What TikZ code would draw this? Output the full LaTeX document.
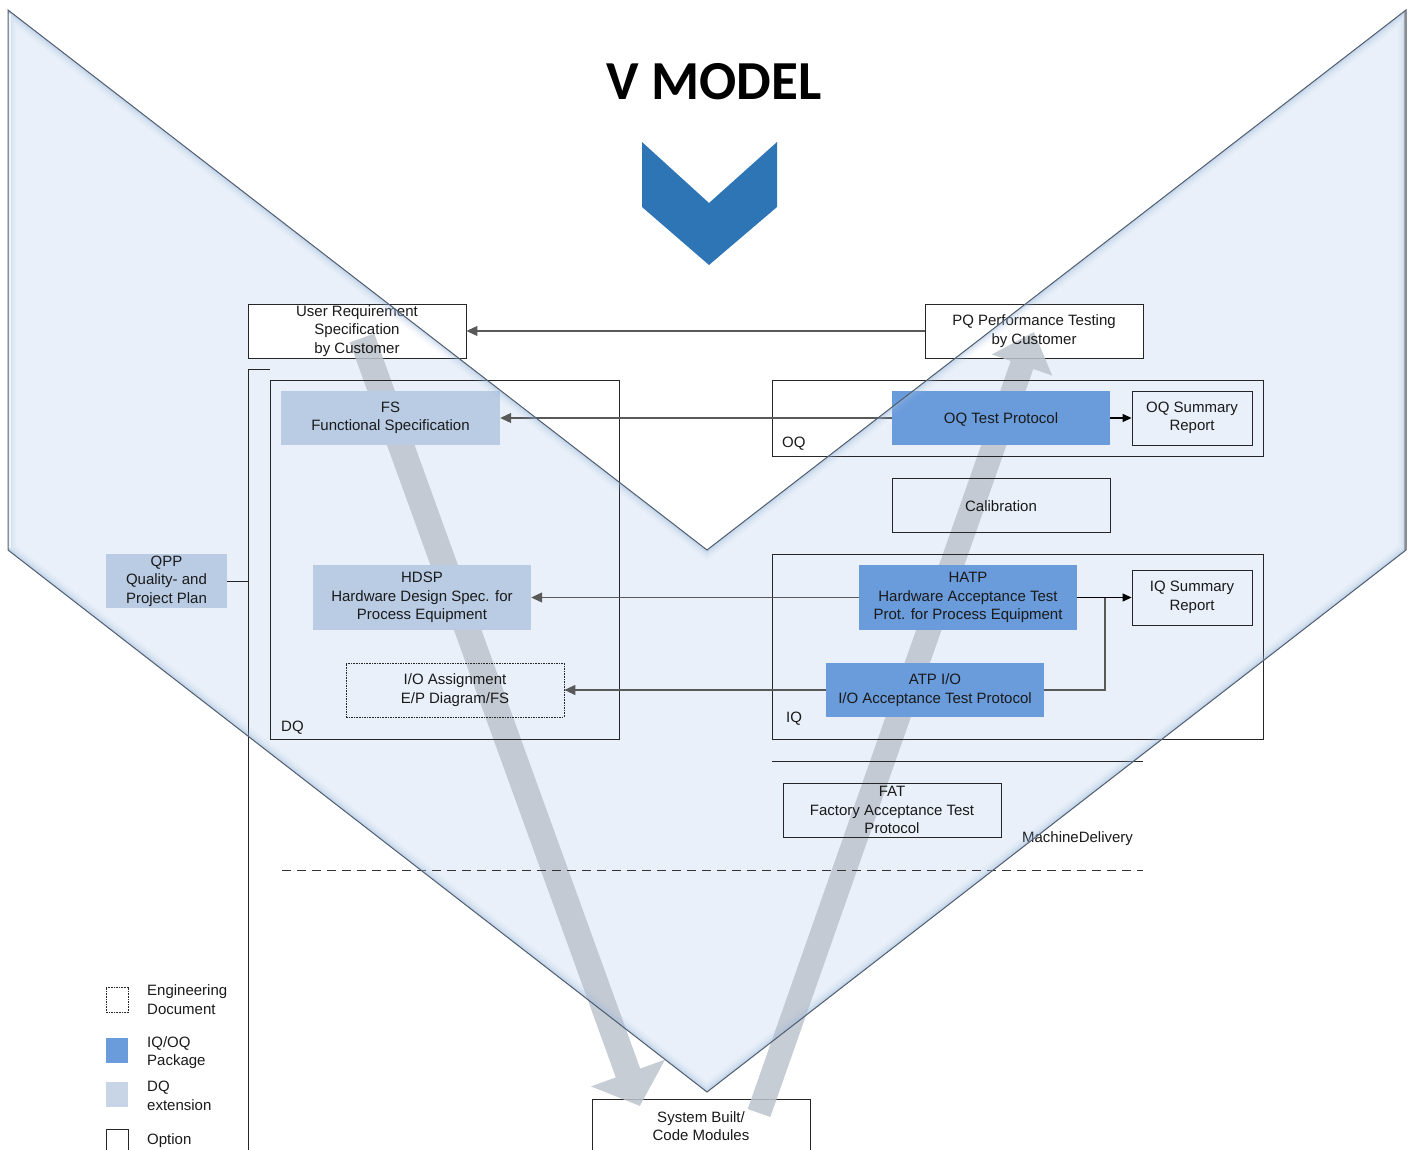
\documentclass[tikz,border=0pt]{standalone}
\usepackage{fontspec}
\setmainfont{Liberation Sans}
\newfontfamily\titlefont{Carlito}
\usetikzlibrary{arrows.meta}
\definecolor{vfill}{HTML}{E9F0F9}
\definecolor{vedge}{HTML}{4F5D6C}
\definecolor{vglow}{HTML}{9EBBDF}
\definecolor{dqc}{HTML}{B9CCE4}
\definecolor{dqleg}{HTML}{C8D5E6}
\definecolor{iqc}{HTML}{6A9BDB}
\definecolor{chev}{HTML}{2E75B6}
\definecolor{band}{HTML}{BDC4CD}
\definecolor{conn}{HTML}{595959}
\definecolor{txt}{HTML}{1A1A1A}
\begin{document}
\begin{tikzpicture}[x=1pt,y=-1pt,
  font=\fontsize{15}{18.5}\selectfont, text=txt,
  lowered/.style={execute at begin node={\rule{0pt}{14pt}}},
  doc/.style={draw=black!85, line width=0.9pt, align=center, inner sep=0pt, minimum width=218pt, minimum height=54pt, lowered},
  whitebg/.style={draw=black!85, line width=0.9pt, fill=white, inner sep=0pt, minimum width=218pt, minimum height=54pt},
  overtext/.style={align=center, inner sep=0pt, lowered},
  dqdoc/.style={align=center, inner sep=0pt, fill=dqc, minimum width=218pt, minimum height=54pt, lowered},
  iqdoc/.style={align=center, inner sep=0pt, fill=iqc, minimum width=218pt, minimum height=54pt, lowered},
  engdoc/.style={doc, dash pattern=on 1.6pt off 1pt, line width=0.7pt},
  frame/.style={draw=black!85, line width=0.9pt, inner sep=0pt},
  garrow/.style={draw=conn, line width=1.1pt, -{Triangle[length=11pt,width=10pt]}},
  barrow/.style={draw=black, line width=1.1pt, -{Triangle[length=9pt,width=8pt]}},
  plainline/.style={draw=black!85, line width=0.9pt},
  lbl/.style={inner sep=0pt, anchor=base west},
  legtxt/.style={inner sep=0pt, anchor=west, align=left}
]
\useasboundingbox (0,0) rectangle (1415,1150);

% V body
\fill[vfill] (8,10) -- (8,550) -- (707,1092) -- (1406,550) -- (1406,10) -- (707,550) -- cycle;

% title and chevron
\node[font=\titlefont\bfseries\fontsize{55}{58}\selectfont, text=black, inner sep=0pt] (title) at (714,82) {V MODEL};
\fill[chev] (642,142) -- (709,203) -- (777,142) -- (777,207) -- (709,265) -- (642,207) -- cycle;

% white documents (frames first, text after the flow arrows)
\node[whitebg] (ursbox) at (357,331) {};
\node[whitebg] (pqbox) at (1034,331) {};
\node[whitebg] (sysbbox) at (701,1126) {};

% big gray flow arrows
\fill[band, opacity=0.85] (349.8,342.4) -- (374.2,333.6) -- (640.2,1068.6) -- (665,1059.6) -- (639.9,1105.9) -- (591,1086.4) -- (615.8,1077.4) -- cycle;
\fill[band, opacity=0.85] (747.7,1109) -- (1010.7,361) -- (991.8,354.4) -- (1034,332) -- (1052.2,375.6) -- (1033.3,369) -- (770.3,1117) -- cycle;

\node[overtext] (urs) at (357,331) {User Requirement\\Specification\\by Customer};
\node[overtext] (pq) at (1034,331) {PQ Performance Testing\\by Customer};
\node[overtext] (sysb) at (701,1126) {System Built/\\Code Modules};

% DQ side
\node[frame, minimum width=349pt, minimum height=359pt] (dqbox) at (444.5,559.5) {};
\node[lbl] (dqlbl) at (281,731) {DQ};
\node[dqdoc, minimum width=219pt] (fs) at (390.5,418) {FS\\Functional Specification};
\node[dqdoc, minimum height=65pt] (hdsp) at (422,597.5) {HDSP\\Hardware Design Spec. for\\Process Equipment};
\node[engdoc] (io) at (455,690) {I/O Assignment\\E/P Diagram/FS};
\node[dqdoc, minimum width=121pt] (qpp) at (166.5,581) {QPP\\Quality- and\\Project Plan};

% bracket
\coordinate (brtop) at (248,369);
\coordinate (brtick) at (270,369);
\coordinate (brbot) at (248,1152);
\draw[plainline] (brtick) -- (brtop) -- (brbot);
\draw[plainline] (qpp.east) -- (qpp.east -| brtop);

% OQ side
\node[frame, minimum width=491pt, minimum height=76pt] (oqbox) at (1017.5,418) {};
\node[lbl] (oqlbl) at (782,447) {OQ};
\node[iqdoc] (oqt) at (1001,418) {OQ Test Protocol};
\node[doc, minimum width=120pt] (oqs) at (1192,418) {OQ Summary\\Report};
\node[doc] (cal) at (1001,505) {Calibration};

% IQ side
\node[frame, minimum width=491pt, minimum height=185pt] (iqbox) at (1017.5,646.5) {};
\node[lbl] (iqlbl) at (786,722) {IQ};
\node[iqdoc, minimum height=65pt] (hatp) at (968,597.5) {HATP\\Hardware Acceptance Test\\Prot. for Process Equipment};
\node[doc, minimum width=120pt, minimum height=55pt] (iqs) at (1192,597.5) {IQ Summary\\Report};
\node[iqdoc] (atp) at (935,690) {ATP I/O\\I/O Acceptance Test Protocol};
\coordinate (junc) at (1105,597.5);

% FAT / delivery
\coordinate (sepL) at (772,761);
\coordinate (sepR) at (1143,761);
\draw[plainline] (sepL) -- (sepR);
\node[doc] (fat) at (892,810) {FAT\\Factory Acceptance Test\\Protocol};
\node[inner sep=0pt] (md) at (1077.5,839) {MachineDelivery};
\coordinate (dashL) at (282,870);
\coordinate (dashR) at (1143,870);
\draw[draw=black!80, line width=0.9pt, dash pattern=on 9pt off 6pt] (dashL) -- (dashR);

% connectors
\draw[garrow] (pqbox) -- (ursbox);
\draw[garrow] (oqt) -- (fs);
\draw[garrow] (hatp) -- (hdsp);
\draw[garrow] (atp) -- (io);
\draw[barrow] (oqt) -- (oqs);
\draw[barrow] (hatp) -- (iqs);
\draw[draw=conn, line width=1.1pt] (atp.east) -| (junc);

% legend
\node[engdoc, minimum width=22pt, minimum height=25pt] (lg1) at (117,999.5) {};
\node[legtxt] (lt1) at (147,999.5) {Engineering\\Document};
\node[fill=iqc, inner sep=0pt, minimum width=22pt, minimum height=25pt] (lg2) at (117,1050.5) {};
\node[legtxt] (lt2) at (147,1052.5) {IQ/OQ\\Package};
\node[fill=dqleg, inner sep=0pt, minimum width=22pt, minimum height=25pt] (lg3) at (117,1094.5) {};
\node[legtxt] (lt3) at (147,1096) {DQ\\extension};
\node[doc, minimum width=22pt, minimum height=26pt] (lg4) at (117,1142) {};
\node[legtxt] (lt4) at (147,1141) {Option};

% V edge with soft inner shading
\begin{scope}
  \clip (8,10) -- (8,550) -- (707,1092) -- (1406,550) -- (1406,10) -- (707,550) -- cycle;
  \foreach \w/\o in {16/0.08, 11/0.10, 7/0.14, 4/0.22} {
    \draw[vglow, line width=\w pt, opacity=\o, line join=miter] (8,10) -- (8,550) -- (707,1092) -- (1406,550) -- (1406,10) -- (707,550) -- cycle;
  }
  \draw[white, line width=3pt, opacity=0.7] (9.5,14) -- (9.5,548);
  \draw[gray!70, line width=4pt] (1406,12) -- (1406,550);
\end{scope}
\draw[vedge, line width=1pt, line join=miter] (8,10) -- (8,550) -- (707,1092) -- (1406,550) -- (1406,10) -- (707,550) -- cycle;
\end{tikzpicture}
\end{document}
